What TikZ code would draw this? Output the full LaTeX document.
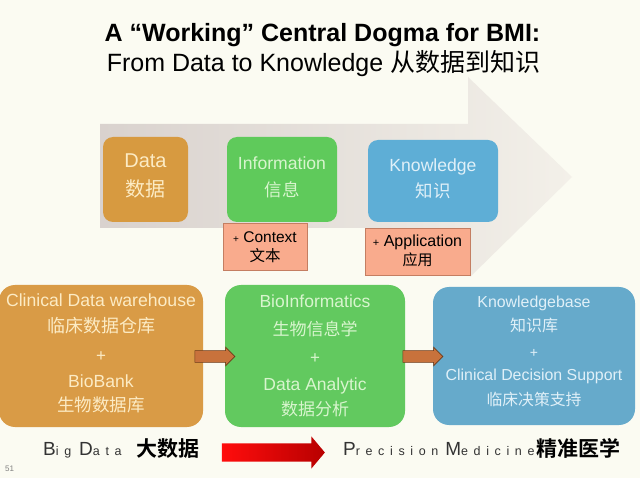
\documentclass[tikz,border=0pt]{standalone}
\usepackage{fontspec}
\setmainfont{Liberation Sans}
\newfontfamily\cjk{Noto Sans CJK SC}
\newfontfamily\cjkb{Noto Sans CJK SC Bold}
\newfontfamily\widefont[LetterSpace=45]{Liberation Sans}
\usetikzlibrary{shapes.arrows,calc}
\definecolor{bgcol}{HTML}{FBFBF2}
\definecolor{arrowL}{HTML}{D9D2CE}
\definecolor{arrowR}{HTML}{F3F0E9}
\definecolor{orangeC}{HTML}{D79A40}
\definecolor{orangeD}{HTML}{D99B46}
\definecolor{greenC}{HTML}{5FCA5B}
\definecolor{greenD}{HTML}{62C95F}
\definecolor{blueC}{HTML}{5EAED6}
\definecolor{blueD}{HTML}{66AACB}
\definecolor{salmon}{HTML}{F9AB8D}
\definecolor{salmonD}{HTML}{C47E62}
\definecolor{brownC}{HTML}{C8723C}
\definecolor{brownD}{HTML}{6B3A1A}
\definecolor{txO}{HTML}{FCEBC4}
\definecolor{txG}{HTML}{D8F5CE}
\definecolor{txB}{HTML}{E0F0F8}
\tikzset{
  topbox/.style={rounded corners=10pt, inner sep=0pt},
  botbox/.style={rounded corners=16pt, inner sep=0pt},
  plusbox/.style={fill=salmon, draw=salmonD, line width=0.6pt, inner sep=0pt},
  boxtxt/.style={inner sep=0pt, anchor=base},
  brownarrow/.style={single arrow, fill=brownC, draw=brownD, line width=0.6pt, inner sep=5.5pt, single arrow head extend=3.5pt, minimum height=40pt, anchor=center},
}
\begin{document}
\begin{tikzpicture}[x=1pt,y=-1pt]
\fill[bgcol] (0,0) rectangle (640,478);
\useasboundingbox (0,0) rectangle (640,478);
% title
\node[inner sep=0pt, anchor=base] (t1) at (322.5,42) {\fontsize{25}{25}\selectfont\bfseries A “Working” Central Dogma for BMI:};
\node[inner sep=0pt, anchor=base] (t2) at (323.5,72) {\fontsize{25}{25}\selectfont From Data to Knowledge {\cjk 从数据到知识}};
% big arrow
\shade[left color=arrowL, right color=arrowR] (100,124) -- (468,124) -- (468,77) -- (572,177) -- (470,277) -- (470,228) -- (100,228) -- cycle;
% top boxes
\node[topbox, fill=orangeC, minimum width=85pt, minimum height=85pt] (data) at (145.5,179.5) {};
\node[topbox, fill=greenC, minimum width=110pt, minimum height=85pt] (info) at (282,179.5) {};
\node[topbox, fill=blueC, minimum width=130pt, minimum height=82pt] (know) at (433,181) {};
\node[boxtxt, text=txO] (dataA) at (data.center |- 0,168) {\fontsize{20}{20}\selectfont Data};
\node[boxtxt, text=txO] (dataB) at (data.center |- 0,197) {\fontsize{20}{20}\selectfont\cjk 数据};
\node[boxtxt, text=txG] (infoA) at (info.center |- 0,170) {\fontsize{17.6}{17.6}\selectfont Information};
\node[boxtxt, text=txG] (infoB) at (info.center |- 0,197) {\fontsize{17.5}{17.5}\selectfont\cjk 信息};
\node[boxtxt, text=txB] (knowA) at (know.center |- 0,172) {\fontsize{17.6}{17.6}\selectfont Knowledge};
\node[boxtxt, text=txB] (knowB) at (know.center |- 0,198) {\fontsize{17.5}{17.5}\selectfont\cjk 知识};
% plus boxes
\node[plusbox, minimum width=84pt, minimum height=47pt] (ctx) at (265,246.5) {};
\node[plusbox, minimum width=105pt, minimum height=47pt] (app) at (417.5,251.5) {};
\node[boxtxt] (ctxA) at (ctx.center |- 0,243) {\fontsize{15.5}{15.5}\selectfont{\fontsize{10}{10}\selectfont +} Context};
\node[boxtxt] (ctxB) at (ctx.center |- 0,262) {\fontsize{15.5}{15.5}\selectfont\cjk 文本};
\node[boxtxt] (appA) at (app.center |- 0,247) {\fontsize{16}{16}\selectfont{\fontsize{11}{11}\selectfont +} Application};
\node[boxtxt] (appB) at (app.center |- 0,266) {\fontsize{15}{15}\selectfont\cjk 应用};
% bottom boxes
\node[botbox, fill=orangeD, minimum width=204pt, minimum height=142pt] (clin) at (101,356) {};
\node[botbox, fill=greenD, minimum width=180pt, minimum height=142pt] (bio) at (315,356) {};
\node[botbox, fill=blueD, minimum width=202pt, minimum height=138pt] (kb) at (534,356) {};
\node[boxtxt, text=txO] (c1) at (clin.center |- 0,307) {\fontsize{17.6}{17.6}\selectfont Clinical Data warehouse};
\node[boxtxt, text=txO] (c2) at (clin.center |- 0,333) {\fontsize{18}{18}\selectfont\cjk 临床数据仓库};
\node[boxtxt, text=txO] (c3) at (clin.center |- 0,361) {\fontsize{17}{17}\selectfont +};
\node[boxtxt, text=txO] (c4) at (clin.center |- 0,388) {\fontsize{17.6}{17.6}\selectfont BioBank};
\node[boxtxt, text=txO] (c5) at (clin.center |- 0,411) {\fontsize{17.5}{17.5}\selectfont\cjk 生物数据库};
\node[boxtxt, text=txG] (b1) at (bio.center |- 0,308) {\fontsize{17.5}{17.5}\selectfont BioInformatics};
\node[boxtxt, text=txG] (b2) at (bio.center |- 0,335) {\fontsize{17}{17}\selectfont\cjk 生物信息学};
\node[boxtxt, text=txG] (b3) at (bio.center |- 0,363) {\fontsize{17}{17}\selectfont +};
\node[boxtxt, text=txG] (b4) at (bio.center |- 0,390) {\fontsize{17.5}{17.5}\selectfont Data Analytic};
\node[boxtxt, text=txG] (b5) at (bio.center |- 0,415) {\fontsize{17}{17}\selectfont\cjk 数据分析};
\node[boxtxt, text=txB] (k1) at (kb.center |- 0,308) {\fontsize{15.9}{15.9}\selectfont Knowledgebase};
\node[boxtxt, text=txB] (k2) at (kb.center |- 0,331) {\fontsize{16}{16}\selectfont\cjk 知识库};
\node[boxtxt, text=txB] (k3) at (kb.center |- 0,357) {\fontsize{14}{14}\selectfont +};
\node[boxtxt, text=txB] (k4) at (kb.center |- 0,380) {\fontsize{15.9}{15.9}\selectfont Clinical Decision Support};
\node[boxtxt, text=txB] (k5) at (kb.center |- 0,405) {\fontsize{15.8}{15.8}\selectfont\cjk 临床决策支持};
% brown arrows
\node[brownarrow] (arr1) at (212,356.5) {};
\node[brownarrow] (arr2) at (420,356.5) {};
% bottom line
\node[inner sep=0pt, anchor=base west, text=black!80] (bigA) at (43,455) {\widefont{\fontsize{19}{19}\selectfont B}{\fontsize{12.5}{12.5}\selectfont ig}\hspace{8pt}{\fontsize{19}{19}\selectfont D}{\fontsize{12.5}{12.5}\selectfont ata}};
\node[inner sep=0pt, anchor=base west] (bigB) at (136,456) {\cjkb\fontsize{21}{21}\selectfont 大数据};
\node[inner sep=0pt, anchor=base west, text=black!80] (pmA) at (343,455) {\widefont{\fontsize{19}{19}\selectfont P}{\fontsize{12.5}{12.5}\selectfont recision}\hspace{7pt}{\fontsize{19}{19}\selectfont M}{\fontsize{12.5}{12.5}\selectfont edicine}};
\node[inner sep=0pt, anchor=base east] (pmB) at (621,456) {\cjkb\fontsize{21}{21}\selectfont 精准医学};
\node[single arrow, left color=red!95!white, right color=red!72!black, draw=none, inner sep=9pt, single arrow head extend=7pt, single arrow tip angle=100, minimum height=103pt] (red) at (269.5,452.5) {};
\node[inner sep=0pt, anchor=base west, text=black!50] (pg) at (5,471) {\fontsize{8}{8}\selectfont 51};
\end{tikzpicture}
\end{document}
